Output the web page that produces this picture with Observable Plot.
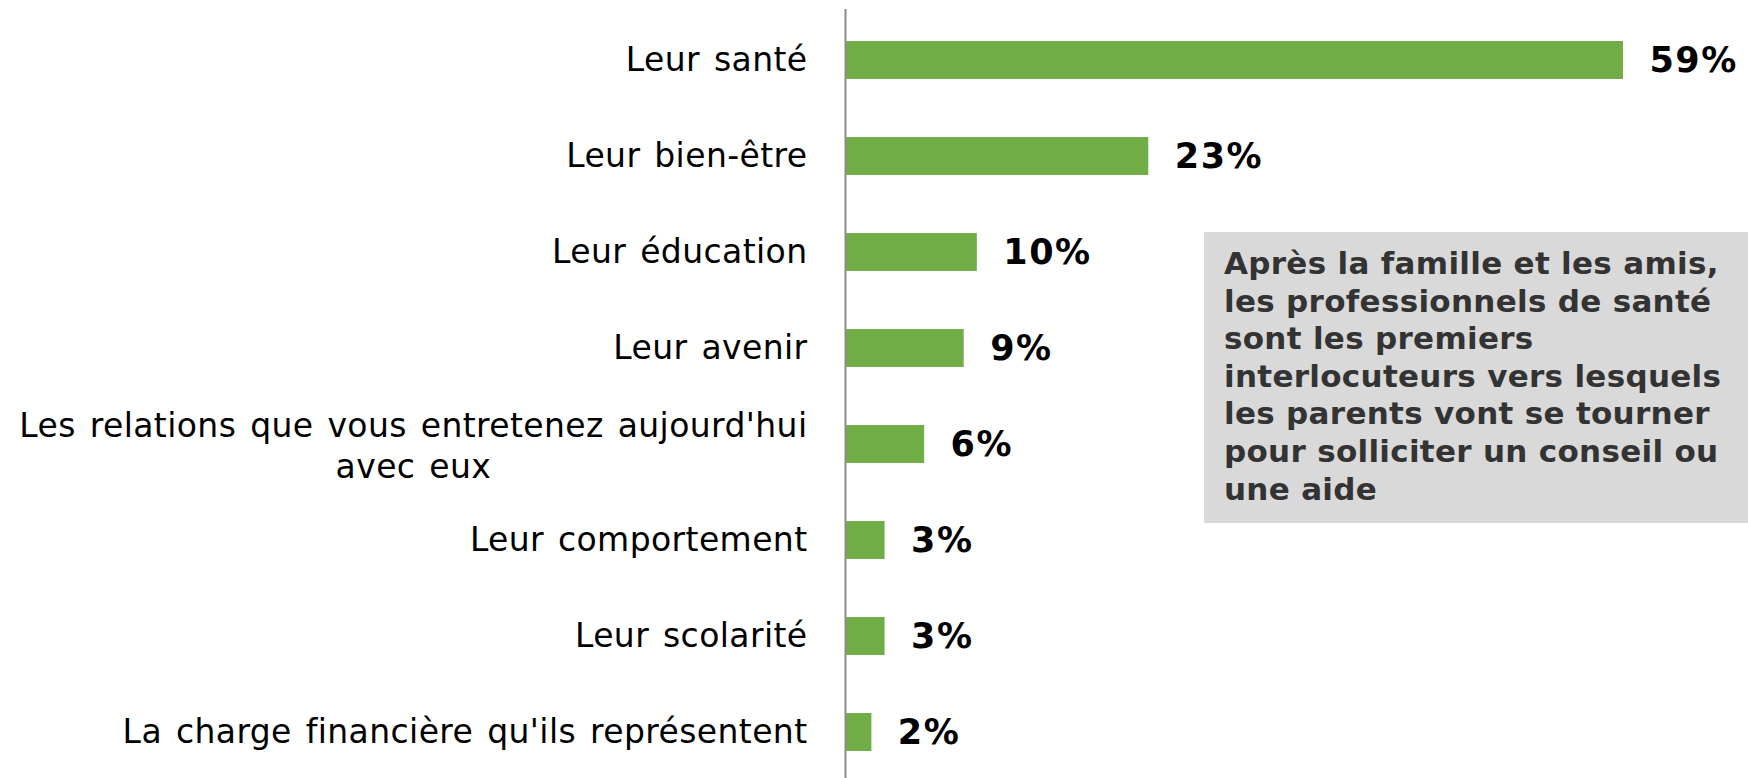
<!DOCTYPE html>
<html><head><meta charset="utf-8">
<script src="https://cdn.jsdelivr.net/npm/d3@7"></script>
<script src="https://cdn.jsdelivr.net/npm/@observablehq/plot@0.6"></script>
<style>
body{margin:0;background:#fff;}
#wrap{position:relative;width:1748px;height:778px;overflow:hidden;}
#note{position:absolute;left:1204px;top:232px;width:544px;height:291px;background:#d9d9d9;box-sizing:border-box;padding:13px 0 0 20px;font:bold 31px/37.6px "DejaVu Sans",sans-serif;letter-spacing:0.3px;color:#333;white-space:nowrap;}
</style></head><body><div id="wrap"></div>
<script>
const categories = [
  "Leur santé",
  "Leur bien-être",
  "Leur éducation",
  "Leur avenir",
  "Les relations que vous entretenez aujourd'hui\navec eux",
  "Leur comportement",
  "Leur scolarité",
  "La charge financière qu'ils représentent"
];
const values = [59, 23, 10, 9, 6, 3, 3, 2];
const valueLabels = ["59%", "23%", "10%", "9%", "6%", "3%", "3%", "2%"];
const noteLines = [
  "Après la famille et les amis,",
  "les professionnels de santé",
  "sont les premiers",
  "interlocuteurs vers lesquels",
  "les parents vont se tourner",
  "pour solliciter un conseil ou",
  "une aide"
];

const data = categories.map((c, i) => ({category: c, value: values[i], label: valueLabels[i]}));
const singleLine = data.filter(d => !d.category.includes("\n"));
const multiLine = data.filter(d => d.category.includes("\n"));

const labelFont = 33;
const letterSp = 0.4, wordSp = 3;
const ctx = document.createElement("canvas").getContext("2d");
ctx.font = `${labelFont}px "DejaVu Sans"`;
const measure = s => ctx.measureText(s).width + letterSp * s.length + wordSp * (s.split(" ").length - 1);
const multiWidth = multiLine.length ? d3.max(multiLine[0].category.split("\n"), measure) : 0;

const chart = Plot.plot({
  width: 1748,
  height: 778,
  marginLeft: 845,
  marginRight: 125,
  marginTop: 38,
  marginBottom: 24,
  x: {domain: [0, 59], axis: null},
  y: {domain: categories, axis: null, paddingInner: 0.6, paddingOuter: 0},
  style: {fontFamily: "DejaVu Sans", background: "transparent", overflow: "visible"},
  marks: [
    Plot.barX(data, {x: "value", y: "category", fill: "#70ad47"}),
    Plot.ruleX([0], {stroke: "#8c8c8c", strokeWidth: 2, insetTop: -29, insetBottom: -24}),
    Plot.text(data, {x: "value", y: "category", text: "label", textAnchor: "start", dx: 26,
      fontSize: 35, fontWeight: "bold", fill: "#000"}),
    Plot.text(singleLine, {y: "category", text: "category", frameAnchor: "left", textAnchor: "end",
      dx: -38, fontSize: labelFont, fill: "#000"}),
    Plot.text(multiLine, {y: "category", text: "category", frameAnchor: "left", textAnchor: "middle",
      dx: -38 - multiWidth / 2, fontSize: labelFont, lineHeight: 1.24, fill: "#000"})
  ]
});

const textGroups = chart.querySelectorAll('g[aria-label="text"]');
if (textGroups[0]) textGroups[0].setAttribute("letter-spacing", "1.5px");
for (const g of [textGroups[1], textGroups[2]]) {
  if (!g) continue;
  g.setAttribute("letter-spacing", letterSp + "px");
  g.setAttribute("word-spacing", wordSp + "px");
}

const wrap = document.getElementById("wrap");
wrap.appendChild(chart);
const note = document.createElement("div");
note.id = "note";
note.innerHTML = noteLines.map(s => s.replace(/&/g, "&amp;").replace(/</g, "&lt;")).join("<br>");
wrap.appendChild(note);
</script>
</body></html>
